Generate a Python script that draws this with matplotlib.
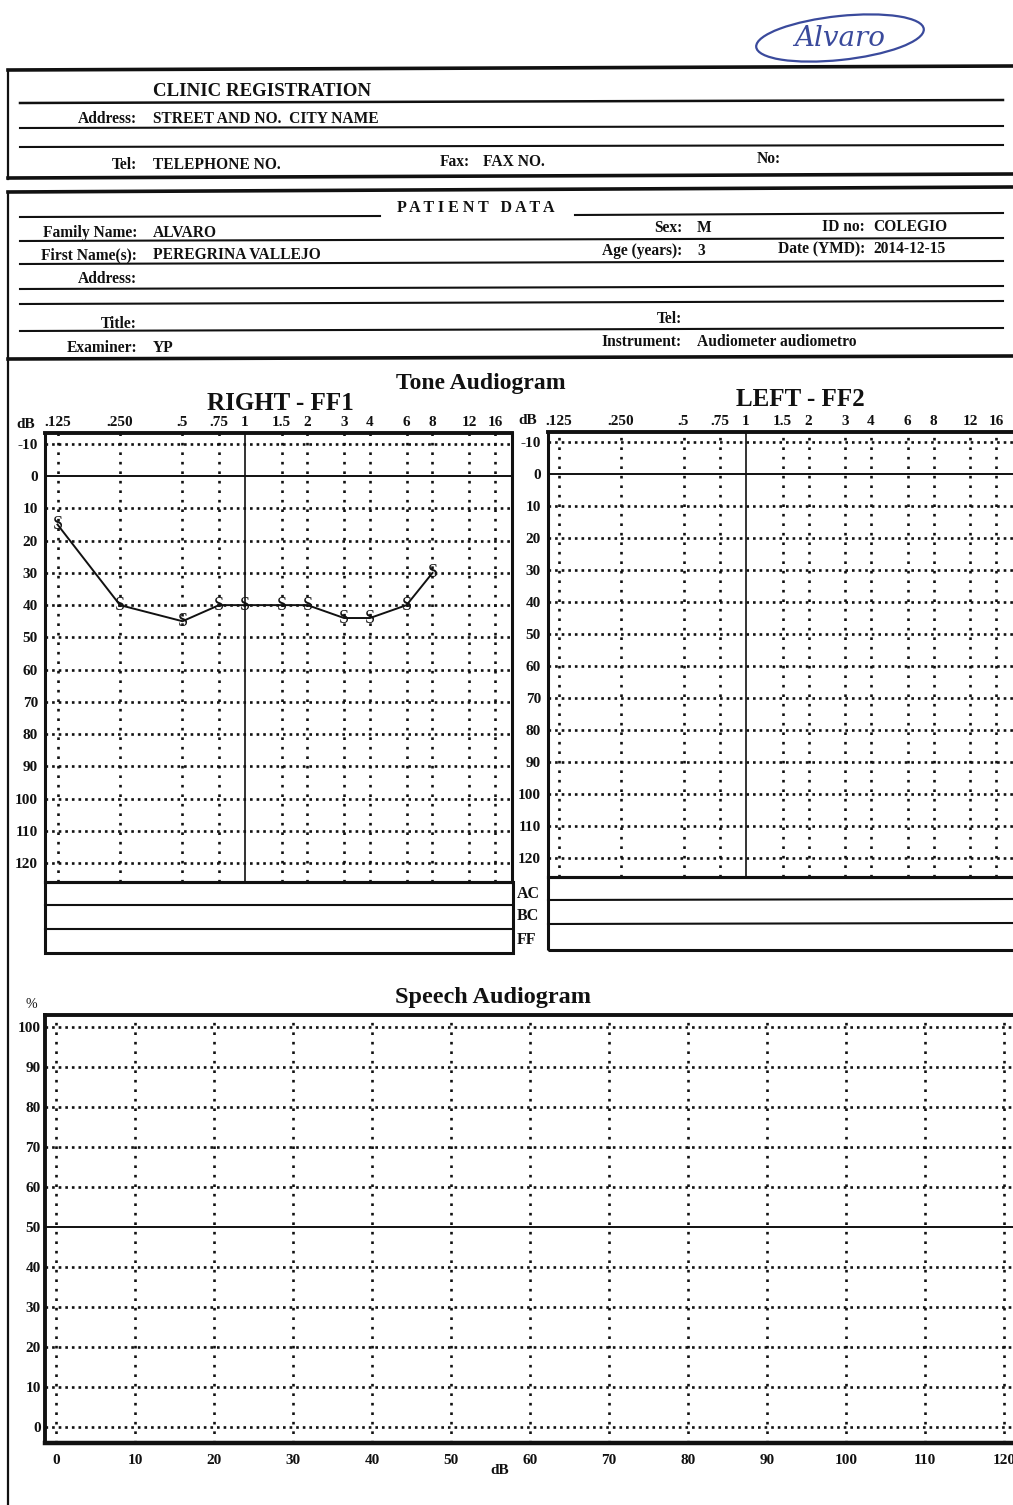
import matplotlib
matplotlib.use('Agg')
import matplotlib.pyplot as plt
from matplotlib.lines import Line2D
from matplotlib.patches import Ellipse, Rectangle

# ---- data ----
freqs = [0.125, 0.25, 0.5, 0.75, 1, 1.5, 2, 3, 4, 6, 8, 12, 16]
freq_labels = ['.125', '.250', '.5', '.75', '1', '1.5', '2', '3', '4', '6', '8', '12', '16']
db_levels = [-10, 0, 10, 20, 30, 40, 50, 60, 70, 80, 90, 100, 110, 120]

right_freqs = [0.125, 0.25, 0.5, 0.75, 1, 1.5, 2, 3, 4, 6, 8]
right_levels = [15, 40, 45, 40, 40, 40, 40, 44, 44, 40, 30]
right_symbol = 'S'

speech_db = [0, 10, 20, 30, 40, 50, 60, 70, 80, 90, 100, 110, 120]
speech_pct = [0, 10, 20, 30, 40, 50, 60, 70, 80, 90, 100]

clinic_rows = [('Address:', 'STREET AND NO.  CITY NAME'), ('Tel:', 'TELEPHONE NO.')]
patient_left = [('Family Name:', 'ALVARO', 233), ('First Name(s):', 'PEREGRINA VALLEJO', 255),
                ('Address:', '', 279), ('Title:', '', 324), ('Examiner:', 'YP', 348)]
patient_mid = [('Sex:', 'M', 228), ('Age (years):', '3', 251), ('Tel:', '', 319),
               ('Instrument:', 'Audiometer audiometro', 342)]
patient_right = [('ID no:', 'COLEGIO', 227), ('Date (YMD):', '2014-12-15', 249)]

W, H = 1013, 1505
SERIF = 'Liberation Serif'
INK = '#111111'
FS = 11.2               # form label size
HDOTS = (0, (1, 1.5))   # horizontal grid: close dots
VDOTS = (0, (1, 2.6))   # vertical grid: wider spaced dots

fig = plt.figure(figsize=(W / 100, H / 100), dpi=100)
fig.patch.set_facecolor('white')


def fx(x):
    return x / W


def fy(y):
    return 1 - y / H


def line(x0, y0, x1, y1, lw=1.2):
    fig.add_artist(Line2D([fx(x0), fx(x1)], [fy(y0), fy(y1)], color=INK, lw=lw,
                          transform=fig.transFigure))


def txt(x, y, s, size=11, ha='left', weight='bold', **kw):
    fig.text(fx(x), fy(y), s, fontsize=size, ha=ha, va='center', fontweight=weight,
             family=SERIF, color=INK, **kw)


def axes_px(x0, y0, x1, y1):
    return fig.add_axes([fx(x0), fy(y1), (x1 - x0) / W, (y1 - y0) / H])


# ---- handwritten name ----
fig.add_artist(Ellipse((fx(840), fy(38)), 168 / W, 44 / H, angle=4, fill=False,
                       edgecolor='#3a4a9c', lw=1.6, transform=fig.transFigure))
fig.text(fx(840), fy(38), 'Alvaro', fontsize=20, ha='center', va='center', color='#3a4a9c',
         family='DejaVu Serif', style='italic')

# ---- clinic registration ----
line(8, 70, 1013, 66, 2.6)
line(8, 70, 8, 179, 1.6)
line(20, 103, 1003, 100, 1.8)
line(20, 128, 1003, 126, 1.5)
line(20, 147, 1003, 145, 1.5)
line(8, 178, 1013, 174, 2.6)
txt(153, 91, 'CLINIC REGISTRATION', 13.6)
txt(137, 119, clinic_rows[0][0], FS, ha='right')
txt(153, 119, clinic_rows[0][1], FS)
txt(137, 165, clinic_rows[1][0], FS, ha='right')
txt(153, 165, clinic_rows[1][1], FS)
txt(470, 162, 'Fax:', FS, ha='right')
txt(483, 162, 'FAX NO.', FS)
txt(757, 159, 'No:', FS)

# ---- patient data ----
line(8, 192, 1013, 187, 2.6)
line(8, 192, 8, 1505, 1.6)
txt(476, 208, 'P A T I E N T   D A T A', 11.5, ha='center')
line(20, 217, 380, 216, 1.5)
line(575, 215, 1003, 213, 1.5)
for y0, y1 in [(241, 238), (264, 261), (289, 286), (304, 301), (331, 328)]:
    line(20, y0, 1003, y1, 1.5)
line(8, 359, 1013, 356, 2.6)
for lab, val, y in patient_left:
    txt(137, y, lab, FS, ha='right')
    txt(153, y, val, FS)
for lab, val, y in patient_mid:
    txt(682, y, lab, FS, ha='right')
    txt(697, y, val, FS)
for lab, val, y in patient_right:
    txt(865, y, lab, FS, ha='right')
    txt(873, y, val, FS)

# ---- tone audiograms ----
txt(481, 384, 'Tone Audiogram', 17, ha='center')
txt(280, 404, 'RIGHT - FF1', 18, ha='center')
txt(800, 400, 'LEFT - FF2', 18, ha='center')


def style_ticks(ax, size):
    for lab in ax.get_xticklabels() + ax.get_yticklabels():
        lab.set_family(SERIF)
        lab.set_fontweight('bold')
        lab.set_fontsize(size)
        lab.set_color(INK)
    for s in ax.spines.values():
        s.set_linewidth(2.2)
        s.set_color(INK)


def tone_axes(x0, y0, x1, y1, ref_x, ylim):
    ax = axes_px(x0, y0, x1, y1)
    ax.set_xscale('log', base=2)
    ax.set_xlim(2 ** ((x0 - ref_x) / 62.5), 2 ** ((x1 - ref_x) / 62.5))
    ax.set_ylim(*ylim)
    for f in freqs:
        if f == 1:
            ax.axvline(f, color=INK, lw=1.2)
        else:
            ax.axvline(f, color=INK, lw=1.9, ls=VDOTS)
    for d in db_levels:
        if d == 0:
            ax.axhline(d, color=INK, lw=1.4)
        else:
            ax.axhline(d, color=INK, lw=1.9, ls=HDOTS)
    ax.xaxis.tick_top()
    ax.set_xticks(freqs)
    ax.set_xticklabels(freq_labels)
    ax.xaxis.set_minor_locator(matplotlib.ticker.NullLocator())
    ax.set_yticks(db_levels)
    ax.set_yticklabels([str(d) for d in db_levels])
    ax.tick_params(axis='x', length=0, pad=3)
    ax.tick_params(axis='y', length=0, pad=5)
    style_ticks(ax, 11)
    ax.spines['top'].set_linewidth(2.8)
    return ax


ax_r = tone_axes(45, 433, 512, 882, 245, (125.9, -13.4))
ax_l = tone_axes(548, 432, 1030, 877, 746, (125.9, -13.1))
txt(16, 424, 'dB', 11, ha='left')
txt(518, 421, 'dB', 11, ha='left')

ax_r.plot(right_freqs, right_levels, color=INK, lw=1.4, zorder=3)
for f, d in zip(right_freqs, right_levels):
    ax_r.text(f, d, right_symbol, fontsize=13, ha='center', va='center', family=SERIF,
              color=INK, zorder=4)

# AC / BC / FF rows
fig.add_artist(Rectangle((fx(45), fy(953)), (513 - 45) / W, (953 - 882) / H, fill=False,
                         lw=2.2, edgecolor=INK, transform=fig.transFigure))
line(45, 905, 513, 905, 1.5)
line(45, 929, 513, 929, 1.5)
fig.add_artist(Rectangle((fx(548), fy(950)), (1030 - 548) / W, (950 - 877) / H, fill=False,
                         lw=2.2, edgecolor=INK, transform=fig.transFigure))
line(548, 900, 1013, 899, 1.5)
line(548, 924, 1013, 923, 1.5)
txt(517, 894, 'AC', 11.5)
txt(517, 916, 'BC', 11.5)
txt(517, 940, 'FF', 11.5)

# ---- speech audiogram ----
txt(493, 998, 'Speech Audiogram', 17.5, ha='center')
txt(25, 1004, '%', 10, weight='normal')
ax_s = axes_px(45, 1015, 1030, 1443)
ax_s.set_xlim(-1.4, (1030 - 56) / 7.9)
ax_s.set_ylim(-4, 103)
for d in speech_db:
    ax_s.axvline(d, color=INK, lw=1.9, ls=VDOTS)
for p in speech_pct:
    if p == 50:
        ax_s.axhline(p, color=INK, lw=1.4)
    else:
        ax_s.axhline(p, color=INK, lw=1.9, ls=HDOTS)
ax_s.set_xticks(speech_db)
ax_s.set_xticklabels([str(d) for d in speech_db])
ax_s.set_yticks(speech_pct)
ax_s.set_yticklabels([str(p) for p in speech_pct])
ax_s.tick_params(axis='x', length=0, pad=8)
ax_s.tick_params(axis='y', length=0, pad=3)
style_ticks(ax_s, 11)
ax_s.spines['bottom'].set_linewidth(3.2)
ax_s.spines['left'].set_linewidth(2.8)
ax_s.spines['top'].set_linewidth(2.8)
txt(490, 1471, 'dB', 11)

fig.savefig('out.png', dpi=100, facecolor='white')
